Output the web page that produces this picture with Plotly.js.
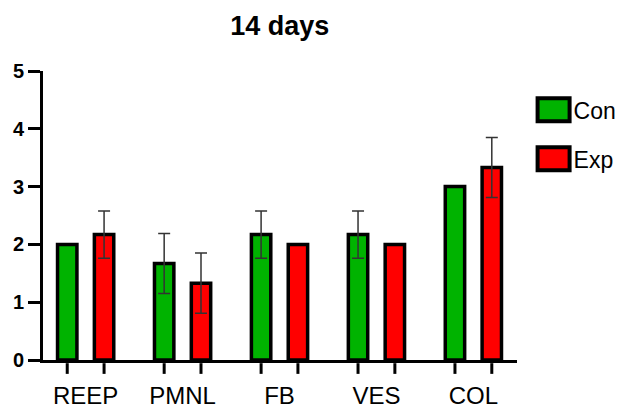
<!DOCTYPE html>
<html>
<head>
<meta charset="utf-8">
<script src="https://cdn.plot.ly/plotly-3.0.1.min.js"></script>
<style>html,body{margin:0;padding:0;background:#fff;}#chart{width:619px;height:408px;}</style>
</head>
<body>
<div id="chart"></div>
<script>
var categories = ["REEP", "PMNL", "FB", "VES", "COL"];
var conValues = [2.0, 1.67, 2.17, 2.17, 3.0];
var conErrors = [null, 0.52, 0.41, 0.41, null];
var expValues = [2.17, 1.33, 2.0, 2.0, 3.33];
var expErrors = [0.41, 0.52, null, null, 0.52];
var seriesNames = ["Con", "Exp"];
var yTicks = [0, 1, 2, 3, 4, 5];

var offset = 0.19;
var idx = categories.map(function(c, i){ return i; });
var conX = idx.map(function(i){ return i - offset; });
var expX = idx.map(function(i){ return i + offset; });
var barTickPositions = conX.concat(expX);

function errs(a){ return a.map(function(v){ return v === null ? NaN : v; }); }

var traces = [
  {type:'bar', name:seriesNames[0], x:conX, y:conValues, width:0.2,
   marker:{color:'#00b300', line:{color:'#000', width:3.5}},
   error_y:{type:'data', array:errs(conErrors), visible:true, color:'#333', thickness:1.5, width:6},
   legendgroup:'a', hoverinfo:'skip'},
  {type:'bar', name:seriesNames[1], x:expX, y:expValues, width:0.2,
   marker:{color:'#ff0000', line:{color:'#000', width:3.5}},
   error_y:{type:'data', array:errs(expErrors), visible:true, color:'#333', thickness:1.5, width:6},
   legendgroup:'b', hoverinfo:'skip'}
];

// small tick marks under each bar (axis decoration), placed through the x scale
var tickShapes = barTickPositions.map(function(p){
  return {type:'line', xref:'x', yref:'paper', x0:p, x1:p, y0:-0.011, y1:-0.048,
          line:{color:'#000', width:3}, layer:'above'};
});

var xr = [-0.44, 4.45];
var layout = {
  width:619, height:408,
  margin:{l:43, r:102, t:71, b:48, autoexpand:false},
  paper_bgcolor:'#fff', plot_bgcolor:'#fff',
  font:{family:'Liberation Sans, Arial, sans-serif', color:'#000'},
  title:{text:'<b>14 days</b>', font:{size:27, color:'#000'}, x:0.452, xanchor:'center', y:0.937, yanchor:'middle'},
  barmode:'overlay',
  showlegend:true,
  legend:{x:1.035, y:0.94, xanchor:'left', yanchor:'top', font:{size:23}, tracegroupgap:16, bgcolor:'rgba(0,0,0,0)'},
  shapes:tickShapes,
  xaxis:{range:xr, showgrid:false, zeroline:false, showline:true, linewidth:3, linecolor:'#000',
         tickmode:'array', tickvals:idx, ticktext:categories, ticks:'outside', ticklen:12, tickwidth:1,
         tickcolor:'rgba(0,0,0,0)', tickfont:{size:24, color:'#000'}},
  yaxis:{range:[0,5], tickmode:'array', tickvals:yTicks, ticktext:yTicks.map(function(v){return '<b>'+v+'</b>';}),
         showgrid:false, zeroline:false,
         showline:true, linewidth:3, linecolor:'#000', ticks:'outside', ticklen:12, tickwidth:3, tickcolor:'#000',
         tickfont:{size:20, color:'#000'}}
};

Plotly.newPlot('chart', traces, layout, {staticPlot:true}).then(function(gd){
  // enlarge legend swatches to match the reference's large boxes
  gd.querySelectorAll('.legend .legendpoints path').forEach(function(p){
    p.setAttribute('d', 'M16,11.5H-16V-11.5H16Z');
    p.style.strokeWidth = '4px';
  });
});
</script>
</body>
</html>
